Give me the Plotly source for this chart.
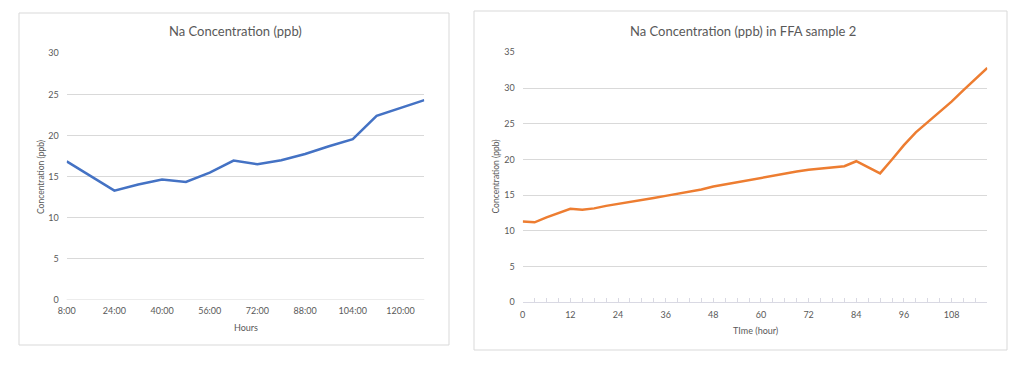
import plotly.graph_objects as go

# ---- Data: left chart ----
hours_labels = ["8:00", "16:00", "24:00", "32:00", "40:00", "48:00", "56:00", "64:00",
                "72:00", "80:00", "88:00", "96:00", "104:00", "112:00", "120:00", "128:00"]
na_conc = [16.85, 15.1, 13.3, 14.05, 14.65, 14.35, 15.5, 16.95,
           16.5, 17.0, 17.75, 18.7, 19.55, 22.4, 23.35, 24.3]
left_ticklabels = hours_labels[::2]

# ---- Data: right chart ----
time_h = list(range(0, 118, 3))
ffa_conc = [11.3, 11.2, 11.9, 12.5, 13.1, 12.95, 13.15, 13.5, 13.75, 14.0,
            14.3, 14.6, 14.9, 15.2, 15.4, 15.8, 16.2, 16.5, 16.9, 17.2,
            17.5, 17.8, 18.1, 18.3, 18.55, 18.7, 18.8, 19.05, 19.75, 18.9,
            18.05, 20.0, 22.0, 23.8, 25.2, 26.6, 28.1, 29.7, 31.3, 32.8]

W, H = 1024, 371
def px(x):
    return x / W
def py(y):
    return (H - y) / H

FONT = "Lato"
GRAY = "#595959"
GRID = "#d9d9d9"

fig = go.Figure()
fig.add_trace(go.Scatter(x=hours_labels, y=na_conc, mode="lines",
                         line=dict(color="#4472C4", width=2.5),
                         xaxis="x", yaxis="y", showlegend=False, hoverinfo="skip"))
fig.add_trace(go.Scatter(x=time_h, y=ffa_conc, mode="lines",
                         line=dict(color="#ED7D31", width=2.5),
                         xaxis="x2", yaxis="y2", showlegend=False, hoverinfo="skip"))

tickfont = dict(family=FONT, size=9, color=GRAY)

fig.update_layout(
    width=W, height=H,
    margin=dict(l=0, r=0, t=0, b=0, autoexpand=False),
    paper_bgcolor="white", plot_bgcolor="white",
    font=dict(family=FONT, color=GRAY),
    xaxis=dict(domain=[px(66.7), px(424.3)], anchor="y", type="category",
               categoryorder="array", categoryarray=hours_labels,
               range=[0, len(hours_labels) - 1],
               tickvals=left_ticklabels, ticktext=left_ticklabels,
               showgrid=False, showline=False, zeroline=False, ticks="",
               tickfont=tickfont, ticklabelstandoff=4, automargin=False),
    yaxis=dict(domain=[py(300), py(53.3)], anchor="x", range=[0, 30], dtick=5,
               showgrid=True, gridcolor=GRID, gridwidth=1, zeroline=False,
               showline=False, ticks="", tickfont=tickfont, ticklabelstandoff=7,
               automargin=False),
    xaxis2=dict(domain=[px(522.7), px(987.3)], anchor="y2", range=[0, 117],
                tick0=0, dtick=12, showgrid=False, zeroline=False,
                showline=True, linecolor="#d9d9e3", linewidth=1,
                ticks="inside", ticklen=4, tickcolor="#d9d9e3",
                minor=dict(dtick=3, ticks="inside", ticklen=4, tickcolor="#d9d9e3"),
                tickfont=tickfont, ticklabelstandoff=4, automargin=False),
    yaxis2=dict(domain=[py(302.3), py(52.3)], anchor="x2", range=[0, 35], dtick=5,
                showgrid=True, gridcolor=GRID, gridwidth=1, zeroline=False,
                showline=False, ticks="", tickfont=tickfont, ticklabelstandoff=7,
                automargin=False),
)

shapes = [
    dict(type="rect", xref="paper", yref="paper",
         x0=px(19), x1=px(449), y0=py(345), y1=py(13),
         line=dict(color=GRID, width=1), fillcolor="rgba(0,0,0,0)", layer="below"),
    dict(type="rect", xref="paper", yref="paper",
         x0=px(474), x1=px(1007), y0=py(350), y1=py(11),
         line=dict(color=GRID, width=1), fillcolor="rgba(0,0,0,0)", layer="below"),
    dict(type="line", xref="x domain", yref="y", x0=0, x1=1, y0=0, y1=0,
         line=dict(color=GRID, width=1)),
]
fig.update_layout(shapes=shapes)

annotations = [
    dict(text="Na Concentration (ppb)", x=px(235), y=py(31), xref="paper", yref="paper",
         showarrow=False, font=dict(family=FONT, size=13, color=GRAY),
         xanchor="center", yanchor="middle"),
    dict(text="Na Concentration (ppb) in FFA sample 2", x=px(743), y=py(31),
         xref="paper", yref="paper", showarrow=False,
         font=dict(family=FONT, size=13, color=GRAY),
         xanchor="center", yanchor="middle"),
    dict(text="Hours", x=px(245.5), y=py(327), xref="paper", yref="paper",
         showarrow=False, font=dict(family=FONT, size=9, color=GRAY),
         xanchor="center", yanchor="middle"),
    dict(text="TIme (hour)", x=px(755), y=py(330), xref="paper", yref="paper",
         showarrow=False, font=dict(family=FONT, size=9, color=GRAY),
         xanchor="center", yanchor="middle"),
    dict(text="Concentration (ppb)", x=px(41), y=py(177), xref="paper", yref="paper",
         showarrow=False, textangle=-90, font=dict(family=FONT, size=8.5, color=GRAY),
         xanchor="center", yanchor="middle"),
    dict(text="Concentration (ppb)", x=px(495.5), y=py(177), xref="paper", yref="paper",
         showarrow=False, textangle=-90, font=dict(family=FONT, size=8.5, color=GRAY),
         xanchor="center", yanchor="middle"),
]
fig.update_layout(annotations=annotations)

fig.write_html("out.html", config={"displayModeBar": False},
               post_script="document.body.style.margin='0';")
